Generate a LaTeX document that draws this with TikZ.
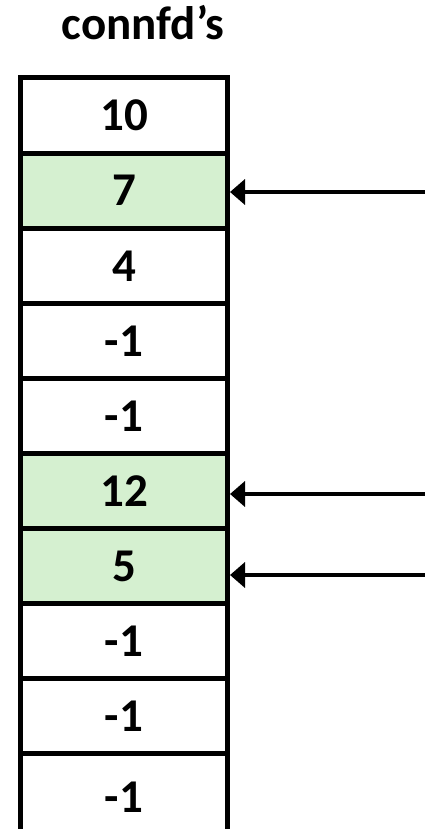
\documentclass[tikz,border=0pt]{standalone}
\usepackage{fontspec}
\setmainfont{Carlito}
\usetikzlibrary{arrows.meta}
\definecolor{cellgreen}{RGB}{213,240,208}
\tikzset{
  cell/.style={draw=black, line width=5pt, minimum width=207pt, minimum height=75.1pt,
    inner sep=0pt, font=\fontsize{47}{50}\selectfont\bfseries, text=black},
  hot/.style={cell, fill=cellgreen},
  ptr/.style={line width=4pt, -{Triangle[length=15pt, width=25pt]}}
}
\begin{document}
\begin{tikzpicture}[x=1pt, y=-1pt]
\useasboundingbox (0,0) rectangle (425,829);
\node[font=\fontsize{47}{50}\selectfont\bfseries, anchor=base, inner sep=0pt] (title) at (143,40) {connfd’s};
\node[cell] (c0) at (124,115.55) {10};
\node[hot]  (c1) at (124,190.65) {7};
\node[cell] (c2) at (124,265.75) {4};
\node[cell] (c3) at (124,340.85) {-1};
\node[cell] (c4) at (124,415.95) {-1};
\node[hot]  (c5) at (124,491.05) {12};
\node[hot]  (c6) at (124,566.15) {5};
\node[cell] (c7) at (124,641.25) {-1};
\node[cell] (c8) at (124,716.35) {-1};
\node[cell, minimum height=86pt, anchor=north] (c9) at (124,751.4) {-1};
\coordinate (p1) at (426,192);
\coordinate (p2) at (426,494);
\coordinate (p3) at (426,575);
\draw[ptr] (p1) -- (c1.east |- p1);
\draw[ptr] (p2) -- (c5.east |- p2);
\draw[ptr] (p3) -- (c6.east |- p3);
\end{tikzpicture}
\end{document}
